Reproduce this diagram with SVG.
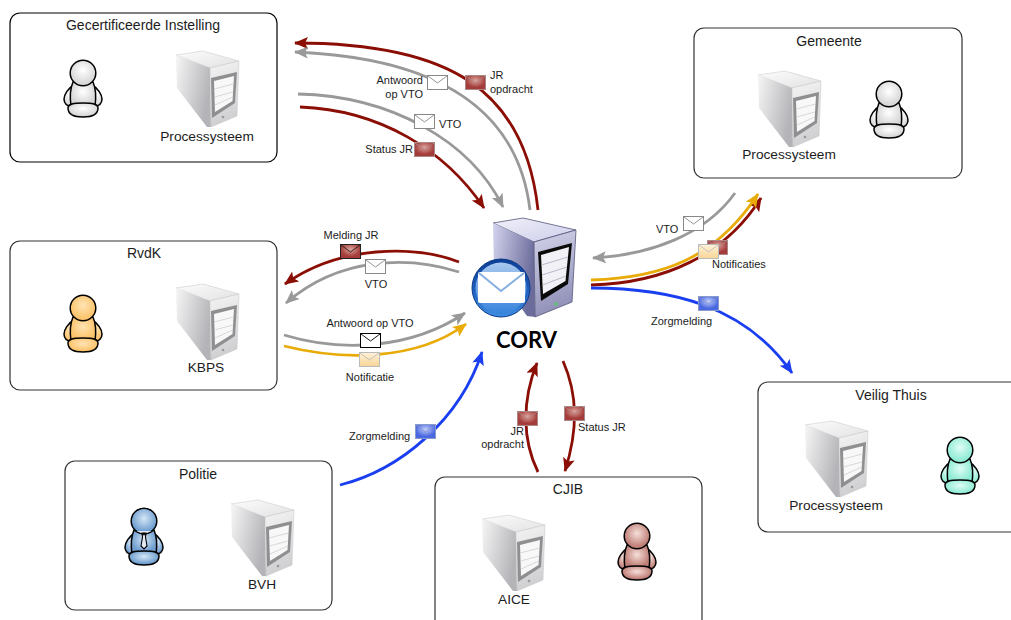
<svg xmlns="http://www.w3.org/2000/svg" width="1011" height="620" viewBox="0 0 1011 620">
<style>
text{font-family:"Liberation Sans",Arial,sans-serif;fill:#1c1c1c}
.t{font-size:14px;text-anchor:middle}
.s{font-size:13.7px;text-anchor:middle}
.l{font-size:11px}
.m{text-anchor:middle}
.e{text-anchor:end}
.box{fill:#fff;stroke:#333;stroke-width:1.2}
.c{fill:none;stroke-width:2.8}
.red{stroke:#8b0e05;marker-end:url(#ar)}
.gray{stroke:#999;marker-end:url(#ag)}
.yel{stroke:#e8ab08;marker-end:url(#ay)}
.blue{stroke:#1a3ff0;marker-end:url(#ab)}
.p{stroke:#000;stroke-width:1.5}
</style>
<defs>
<marker id="ar" markerUnits="userSpaceOnUse" markerWidth="16" markerHeight="14" refX="13" refY="6" orient="auto"><path d="M0 0L14 6L0 12L3 6Z" fill="#8b0e05"/></marker>
<marker id="ag" markerUnits="userSpaceOnUse" markerWidth="16" markerHeight="14" refX="13" refY="6" orient="auto"><path d="M0 0L14 6L0 12L3 6Z" fill="#999"/></marker>
<marker id="ay" markerUnits="userSpaceOnUse" markerWidth="16" markerHeight="14" refX="13" refY="6" orient="auto"><path d="M0 0L14 6L0 12L3 6Z" fill="#e8ab08"/></marker>
<marker id="ab" markerUnits="userSpaceOnUse" markerWidth="16" markerHeight="14" refX="13" refY="6" orient="auto"><path d="M0 0L14 6L0 12L3 6Z" fill="#1a3ff0"/></marker>
<linearGradient id="sTop" x1="0" y1="0" x2="1" y2="1"><stop offset="0" stop-color="#fcfcfc"/><stop offset="1" stop-color="#e2e2e4"/></linearGradient>
<linearGradient id="sSide" x1="0" y1="0" x2="1" y2="0.4"><stop offset="0" stop-color="#f6f6f6"/><stop offset="1" stop-color="#b4b4b8"/></linearGradient>
<linearGradient id="sFront" x1="0" y1="0" x2="0.2" y2="1"><stop offset="0" stop-color="#f4f4f4"/><stop offset="1" stop-color="#cfcfd2"/></linearGradient>
<linearGradient id="cTop" x1="0" y1="0" x2="1" y2="1"><stop offset="0" stop-color="#f0f0fa"/><stop offset="1" stop-color="#cdcdea"/></linearGradient>
<linearGradient id="cSide" x1="0" y1="0" x2="1" y2="0.3"><stop offset="0" stop-color="#d4d4ee"/><stop offset="1" stop-color="#6c6c9c"/></linearGradient>
<linearGradient id="cFront" x1="0" y1="0" x2="0.2" y2="1"><stop offset="0" stop-color="#d4d4ea"/><stop offset="1" stop-color="#9090b8"/></linearGradient>
<radialGradient id="pw" cy="0.4"><stop offset="0" stop-color="#fff"/><stop offset="1" stop-color="#d8d8d8"/></radialGradient>
<radialGradient id="po" cy="0.4"><stop offset="0" stop-color="#ffe4b5"/><stop offset="1" stop-color="#fcc46c"/></radialGradient>
<radialGradient id="pb" cy="0.4"><stop offset="0" stop-color="#d5e6f6"/><stop offset="1" stop-color="#6f9fd0"/></radialGradient>
<radialGradient id="pr" cy="0.4"><stop offset="0" stop-color="#f6dfda"/><stop offset="1" stop-color="#c08078"/></radialGradient>
<radialGradient id="pt" cy="0.4"><stop offset="0" stop-color="#e0fdf5"/><stop offset="1" stop-color="#90ecd6"/></radialGradient>
<radialGradient id="er" cy="0.35"><stop offset="0" stop-color="#dea49c"/><stop offset="1" stop-color="#a33c3a"/></radialGradient>
<radialGradient id="eb" cy="0.35"><stop offset="0" stop-color="#c3cffb"/><stop offset="1" stop-color="#4a68e0"/></radialGradient>
<linearGradient id="ey" x1="0" y1="0" x2="0" y2="1"><stop offset="0" stop-color="#fff2d8"/><stop offset="1" stop-color="#f8d596"/></linearGradient>
<linearGradient id="ring" x1="0" y1="0" x2="0" y2="1"><stop offset="0" stop-color="#0d3f94"/><stop offset="0.5" stop-color="#1d5cbc"/><stop offset="1" stop-color="#3f8de0"/></linearGradient>
<linearGradient id="disc" x1="0" y1="0" x2="0" y2="1"><stop offset="0" stop-color="#a9c8ee"/><stop offset="1" stop-color="#3684dc"/></linearGradient>
<symbol id="srv" overflow="visible">
<path d="M1 5L28 1L64 11L35 18Z" fill="url(#sTop)" stroke="#c4c4c4" stroke-width=".5"/>
<path d="M1 5L35 18L36 77L32 77L2 38Z" fill="url(#sSide)"/>
<path d="M35 18L64 11L62 66L36 77Z" fill="url(#sFront)" stroke="#c4c4c4" stroke-width=".5"/>
<path d="M36 28L62 22L60 53L37 68Z" fill="#8f8f91"/>
<path d="M39 31L59 26L57.500 51L40 62Z" fill="#f8f8f8"/>
<path d="M39 39L58.500 34M39.500 47L58 42M40 55L57.800 47" stroke="#cfcfcf" fill="none" stroke-width=".8"/>
<circle cx="48" cy="67" r="1.300" fill="#999"/>
</symbol>
<symbol id="prs" overflow="visible">
<path class="p" d="M-9 12C-15 15 -19 22 -19 26C-19 30 -16 33 -11 34L-10 14Z"/>
<path class="p" d="M9 12C15 15 19 22 19 26C19 30 16 33 11 34L10 14Z"/>
<path class="p" d="M-10 9H10C13 16 13 26 12 33H-12C-13 26 -13 16 -10 9Z"/>
<path class="p" d="M-15 35C-15 31 -10 30 0 30C10 30 15 31 15 35C15 41 9 44 0 44C-9 44 -15 41 -15 35Z"/>
<circle class="p" cx="0" cy="0" r="12.800"/>
</symbol>
<symbol id="env" overflow="visible">
<rect x="0.500" y="0.500" width="20" height="14" stroke-width="1"/>
<path d="M1 1L10.500 8L20 1" fill="none" stroke-width=".9"/>
</symbol>
</defs>
<g id="connectors">
<path class="c red" d="M538 210C525 90 450 43 295 43"/>
<path class="c gray" d="M530 210C518 110 440 58 295 52"/>
<path class="c gray" d="M298 94C390 96 470 140 503 207"/>
<path class="c red" d="M300 107C380 110 445 150 484 208"/>
<path class="c red" d="M459 262C415 245 340 245 285 284"/>
<path class="c gray" d="M459 272C410 256 340 256 286 303"/>
<path class="c gray" d="M284 335C340 352 410 350 465 313"/>
<path class="c yel" d="M284 346C340 360 415 362 466 324"/>
<path class="c blue" d="M340 485C400 470 460 420 482 352"/>
<path class="c red" d="M538 472C522 440 522 400 537 363"/>
<path class="c red" d="M563 361C578 395 578 430 565 471"/>
<path class="c gray" d="M735 193C705 235 650 255 593 258"/>
<path class="c red" d="M591 285C665 283 725 255 761 198"/>
<path class="c yel" d="M591 280C660 278 715 260 758 194"/>
<path class="c blue" d="M591 288C670 288 745 305 792 373"/>
</g>
<g id="instelling">
<rect class="box" style="stroke:#000" x="10" y="13" width="267" height="149" rx="10"/>
<text class="t" x="143" y="30">Gecertificeerde Instelling</text>
<use href="#prs" x="83" y="73" fill="url(#pw)"/>
<use href="#srv" x="175" y="50"/>
<text class="s" x="207" y="141">Processysteem</text>
</g>
<g id="rvdk">
<rect class="box" x="10" y="241" width="267" height="149" rx="10"/>
<text class="t" x="144" y="258">RvdK</text>
<use href="#prs" x="83" y="308" fill="url(#po)"/>
<use href="#srv" x="175" y="283"/>
<text class="s" x="206" y="372">KBPS</text>
</g>
<g id="politie">
<rect class="box" x="65" y="461" width="267" height="149" rx="10"/>
<text class="t" x="198" y="479">Politie</text>
<use href="#prs" x="144" y="521" fill="url(#pb)"/>
<path d="M135 531L144 535L153 531M142 533H146L145.500 537L147 546L144 549L141 546L142.500 537Z" fill="#dfe9f4" stroke="#000" stroke-width="1.100"/>
<use href="#srv" x="230" y="499"/>
<text class="s" x="262" y="589">BVH</text>
</g>
<g id="cjib">
<rect class="box" x="435" y="477" width="267" height="160" rx="10"/>
<text class="t" x="568" y="494">CJIB</text>
<use href="#srv" x="481" y="514"/>
<use href="#prs" x="637" y="536" fill="url(#pr)"/>
<text class="s" x="514" y="604">AICE</text>
</g>
<g id="gemeente">
<rect class="box" x="694" y="28" width="268" height="150" rx="10"/>
<text class="t" x="829" y="46">Gemeente</text>
<use href="#srv" x="757" y="70"/>
<use href="#prs" x="889" y="94" fill="url(#pw)"/>
<text class="s" x="789" y="159">Processysteem</text>
</g>
<g id="veilig-thuis">
<rect class="box" x="758" y="382" width="270" height="150" rx="10"/>
<text class="t" x="891" y="400">Veilig Thuis</text>
<use href="#srv" x="804" y="420"/>
<use href="#prs" x="960" y="450" fill="url(#pt)"/>
<text class="s" x="836" y="510">Processysteem</text>
</g>
<g id="corv">
<path d="M493 223L523 218L576 230L534 242Z" fill="url(#cTop)" stroke="#55557a" stroke-width=".8"/>
<path d="M493 223L534 242L535 317L527 316L494 270Z" fill="url(#cSide)"/>
<path d="M534 242L576 230L572 302L535 317Z" fill="url(#cFront)" stroke="#55557a" stroke-width=".8"/>
<path d="M538 252L572 243L568 284L541 301Z" fill="#0a0a0a"/>
<path d="M541 255L569 247L565.500 281L543 294Z" fill="#f2f2f6"/>
<path d="M541.500 265L568 257M542 275L567 267M542.500 285L566 276" stroke="#b9b9c9" fill="none"/>
<circle cx="556" cy="304" r="1.800" fill="#56c56b"/>
<circle cx="501" cy="288" r="29" fill="url(#ring)" stroke="#0b3a8a" stroke-width="1"/>
<circle cx="501" cy="288" r="25.500" fill="url(#disc)"/>
<rect x="478" y="272" width="47" height="31" rx="2" fill="#fff"/>
<path d="M479 273L501 291L524 273" fill="none" stroke="#86aee0" stroke-width="2"/>
<text x="526.500" y="348" font-size="22" font-weight="700" text-anchor="middle" style="font-family:Lato,'Liberation Sans',sans-serif;fill:#000">CORV</text>
</g>
<g id="messages">
<use href="#env" x="427" y="75" fill="#fff" stroke="#888"/>
<use href="#env" x="465" y="75" fill="url(#er)" stroke="#a88"/>
<use href="#env" x="414" y="114" fill="#fff" stroke="#888"/>
<use href="#env" x="414" y="142" fill="url(#er)" stroke="#a88"/>
<use href="#env" x="340" y="244" fill="url(#er)" stroke="#222"/>
<use href="#env" x="365" y="259" fill="#fff" stroke="#888"/>
<use href="#env" x="360" y="333" fill="#fff" stroke="#000"/>
<use href="#env" x="359" y="352" fill="url(#ey)" stroke="#bbb"/>
<use href="#env" x="415" y="424" fill="url(#eb)" stroke="#8899cc"/>
<use href="#env" x="517" y="411" fill="url(#er)" stroke="#a88"/>
<use href="#env" x="564" y="406" fill="url(#er)" stroke="#a88"/>
<use href="#env" x="683" y="216" fill="#fff" stroke="#888"/>
<use href="#env" x="707" y="240" fill="url(#er)" stroke="#a88"/>
<use href="#env" x="698" y="244" fill="url(#ey)" stroke="#bbb"/>
<use href="#env" x="698" y="296" fill="url(#eb)" stroke="#8899cc"/>
<text class="l e" x="423" y="84">Antwoord</text>
<text class="l e" x="423" y="98">op VTO</text>
<text class="l" x="490" y="79">JR</text>
<text class="l" x="490" y="93">opdracht</text>
<text class="l" x="439" y="128">VTO</text>
<text class="l e" x="413" y="153">Status JR</text>
<text class="l m" x="351" y="239">Melding JR</text>
<text class="l m" x="376" y="288">VTO</text>
<text class="l m" x="370" y="327">Antwoord op VTO</text>
<text class="l m" x="370" y="381">Notificatie</text>
<text class="l" x="349" y="440">Zorgmelding</text>
<text class="l e" x="524" y="435">JR</text>
<text class="l e" x="524" y="448">opdracht</text>
<text class="l" x="578" y="431">Status JR</text>
<text class="l" x="656" y="233">VTO</text>
<text class="l" x="712" y="268">Notificaties</text>
<text class="l" x="651" y="325">Zorgmelding</text>
</g>
</svg>
